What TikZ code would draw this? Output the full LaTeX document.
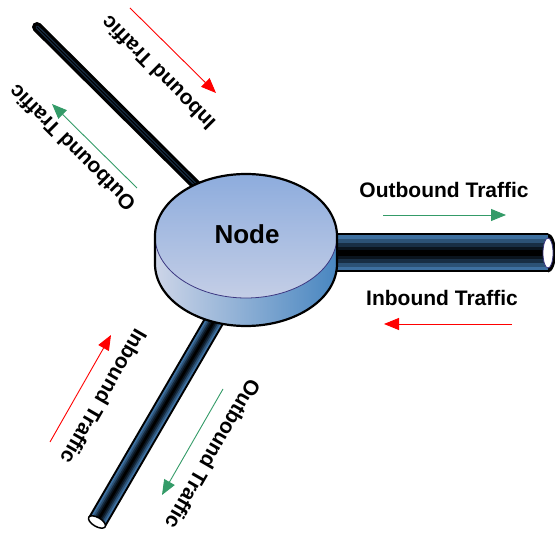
\documentclass[tikz,border=0pt]{standalone}
\usepackage{fontspec}
\setmainfont{Liberation Sans}
\usetikzlibrary{arrows.meta}
\definecolor{flowred}{RGB}{255,0,0}
\definecolor{flowgreen}{RGB}{52,155,104}
\definecolor{pipeA}{RGB}{62,112,160}
\definecolor{pipeB}{RGB}{44,82,118}
\definecolor{pipeC}{RGB}{24,46,68}
\definecolor{pipeD}{RGB}{10,20,30}
\definecolor{disktop}{RGB}{141,172,221}
\definecolor{disktoplow}{RGB}{196,206,230}
\definecolor{sideleft}{RGB}{205,213,232}
\definecolor{sideright}{RGB}{72,134,192}
\definecolor{rim}{RGB}{60,56,130}
\tikzset{
  lbl/.style={font=\bfseries\fontsize{21}{24}\selectfont, inner sep=0pt},
  inflow/.style={draw=flowred, line width=0.9pt, -{Triangle[length=15pt,width=12pt]}},
  outflow/.style={draw=flowgreen, line width=0.9pt, -{Triangle[length=15pt,width=12pt]}},
}
% a thick pipe drawn as nested strokes: blue rim fading to a black core
\newcommand{\tubeline}[3]{%
  \draw[line width=#3pt+4pt, black] (#1) -- (#2);
  \draw[line width=#3pt, pipeA] (#1) -- (#2);
  \draw[line width=0.78*#3pt, pipeB] (#1) -- (#2);
  \draw[line width=0.56*#3pt, pipeC] (#1) -- (#2);
  \draw[line width=0.36*#3pt, pipeD] (#1) -- (#2);
  \draw[line width=0.16*#3pt, black] (#1) -- (#2);
}
\begin{document}
\begin{tikzpicture}[x=1pt,y=1pt]
\useasboundingbox (0,0) rectangle (555,536);

% anchor points
\coordinate (hub) at (246,286);
\coordinate (tlEnd) at (37,509);
\coordinate (tlIn) at (198,349);
\coordinate (rtIn) at (320,283);
\coordinate (rtEnd) at (548,283);
\coordinate (btIn) at (217,220);
\coordinate (btEnd) at (97,14);

% thin pipe to the upper left
\draw[line width=10pt, black, line cap=round] (tlEnd) -- (tlIn);
\draw[line width=3.5pt, pipeC, line cap=round] (tlEnd) -- (tlIn);
\draw[line width=1pt, black, line cap=round] (tlEnd) -- (tlIn);

% thick pipe to the right
\tubeline{rtIn}{rtEnd}{35}
\fill[black] (rtEnd) ++(0,-19.5) arc[start angle=-90, end angle=90, x radius=8, y radius=19.5] -- cycle;
\draw[fill=white, draw=rim, line width=0.8pt] (rtEnd) ellipse [x radius=5, y radius=15];

% pipe to the lower left
\tubeline{btIn}{btEnd}{16}
\draw[fill=white, draw=black, line width=1.5pt, rotate around={-30.3:(btEnd)}] (btEnd) ellipse [x radius=9.5, y radius=4.5];

% the node: a flat cylinder
\shade[left color=sideleft, right color=sideright]
  (155,300) -- (155,272) arc[start angle=180, end angle=360, x radius=91, y radius=62]
  -- (337,300) arc[start angle=0, end angle=-180, x radius=91, y radius=62] -- cycle;
\shade[top color=disktop, bottom color=disktoplow] (246,300) ellipse [x radius=91, y radius=62];
\draw[rim, line width=0.8pt] (155,300) arc[start angle=180, end angle=360, x radius=91, y radius=62];
\draw[black, line width=2.2pt]
  (155,300) -- (155,272) arc[start angle=180, end angle=360, x radius=91, y radius=62]
  -- (337,300) arc[start angle=0, end angle=180, x radius=91, y radius=62];
\node[font=\bfseries\fontsize{26}{30}\selectfont, inner sep=0pt] (node) at (247,302) {Node};

% traffic on the upper-left link
\coordinate (a1s) at (130,528); \coordinate (a1e) at (216,443);
\draw[inflow] (a1s) -- (a1e);
\node[lbl, rotate=135] (t1) at (158,463) {Inbound Traffic};
\coordinate (a2s) at (137,348); \coordinate (a2e) at (52,432);
\draw[outflow] (a2s) -- (a2e);
\node[lbl, rotate=135] (t2) at (72,388) {Outbound Traffic};

% traffic on the right link
\node[lbl] (t3) at (444,346) {Outbound Traffic};
\coordinate (a3s) at (383,321); \coordinate (a3e) at (506,321);
\draw[outflow] (a3s) -- (a3e);
\node[lbl] (t4) at (442,238) {Inbound Traffic};
\coordinate (a4s) at (512,212); \coordinate (a4e) at (384,212);
\draw[inflow] (a4s) -- (a4e);

% traffic on the lower-left link
\coordinate (a5s) at (50,94); \coordinate (a5e) at (111,201);
\draw[inflow] (a5s) -- (a5e);
\node[lbl, rotate=240] (t5) at (104,139) {Inbound Traffic};
\coordinate (a6s) at (223,147); \coordinate (a6e) at (162,41);
\draw[outflow] (a6s) -- (a6e);
\node[lbl, rotate=240] (t6) at (213,82) {Outbound Traffic};
\end{tikzpicture}
\end{document}
